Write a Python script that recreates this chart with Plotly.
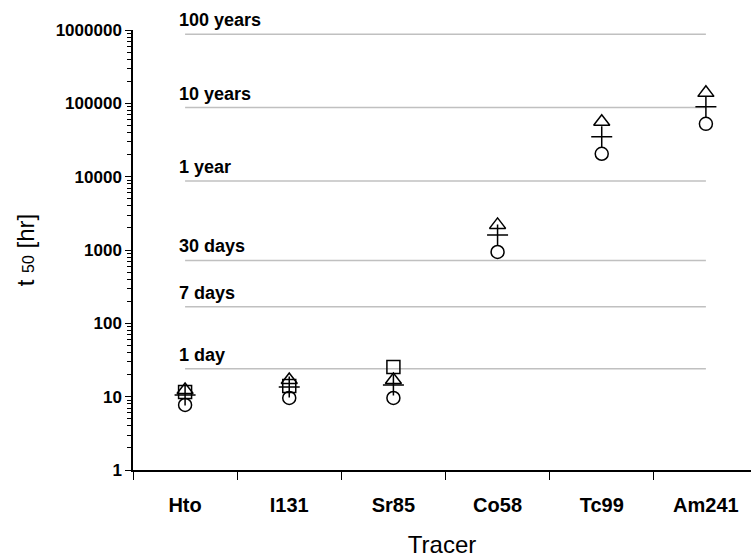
import math
import plotly.graph_objects as go

tracers = ["Hto", "I131", "Sr85", "Co58", "Tc99", "Am241"]
circle_vals = [7.7, 9.6, 9.6, 940, 20500, 52500]
plus_vals = [10.5, 13.5, 14.4, 1600, 35000, 90000]
triangle_vals = [12.3, 16.9, 16.9, 2200, 56000, 139000]
square_vals = [11.6, 14.0, 25.4, None, None, None]

ref_labels = ["100 years", "10 years", "1 year", "30 days", "7 days", "1 day"]
ref_hours = [876000, 87600, 8760, 720, 168, 24]

FONT = "Arial, Liberation Sans, sans-serif"

fig = go.Figure()

for vals, sym, size in [
    (circle_vals, "circle-open", 13),
    (plus_vals, "cross-thin-open", 15),
    (triangle_vals, "triangle-up-open", 14),
    (square_vals, "square-open", 13),
]:
    fig.add_trace(go.Scatter(
        x=tracers, y=vals, mode="markers",
        marker=dict(symbol=sym, size=size, color="black",
                    line=dict(color="black", width=1.5)),
        showlegend=False, cliponaxis=False,
    ))

for lab, h in zip(ref_labels, ref_hours):
    fig.add_shape(type="line", xref="x", yref="y",
                  x0=0, x1=5, y0=h, y1=h,
                  line=dict(color="#c0c0c0", width=1.5), layer="below")
    fig.add_annotation(x=tracers[0], y=math.log10(h), xref="x", yref="y",
                       text="<b>%s</b>" % lab,
                       showarrow=False, xanchor="left", yanchor="bottom",
                       xshift=-8, yshift=2,
                       font=dict(family=FONT, size=18, color="black"))

fig.update_layout(
    width=751, height=558,
    margin=dict(l=133, r=0, t=30, b=88),
    paper_bgcolor="white", plot_bgcolor="white",
    font=dict(family=FONT, color="black"),
)

fig.update_xaxes(
    type="category", range=[-0.5, 5.433],
    showline=True, linecolor="black", linewidth=1.5,
    ticks="outside", ticklen=8, tickcolor="black", tickwidth=1,
    tickson="boundaries", showgrid=False, zeroline=False,
    tickfont=dict(family=FONT, size=20, color="black"),
    ticklabelstandoff=16,
    tickvals=tracers, ticktext=["<b>%s</b>" % t for t in tracers],
    title=dict(text="Tracer", font=dict(family=FONT, size=24, color="black"), standoff=22),
)

fig.update_yaxes(
    type="log", range=[0, 6],
    showline=True, linecolor="black", linewidth=1.5,
    ticks="outside", ticklen=6, tickcolor="black", tickwidth=1,
    tickvals=[1, 10, 100, 1000, 10000, 100000, 1000000],
    ticktext=["<b>%s</b>" % v for v in ["1", "10", "100", "1000", "10000", "100000", "1000000"]],
    tickfont=dict(family=FONT, size=17, color="black"),
    minor=dict(ticks="outside", ticklen=4, tickcolor="black", dtick="D1", showgrid=False),
    showgrid=False, zeroline=False,
    title=dict(text="t <span style='font-size:16px'>50</span> [hr]",
               font=dict(family=FONT, size=24, color="black"), standoff=14),
)

fig.write_html("out.html")
